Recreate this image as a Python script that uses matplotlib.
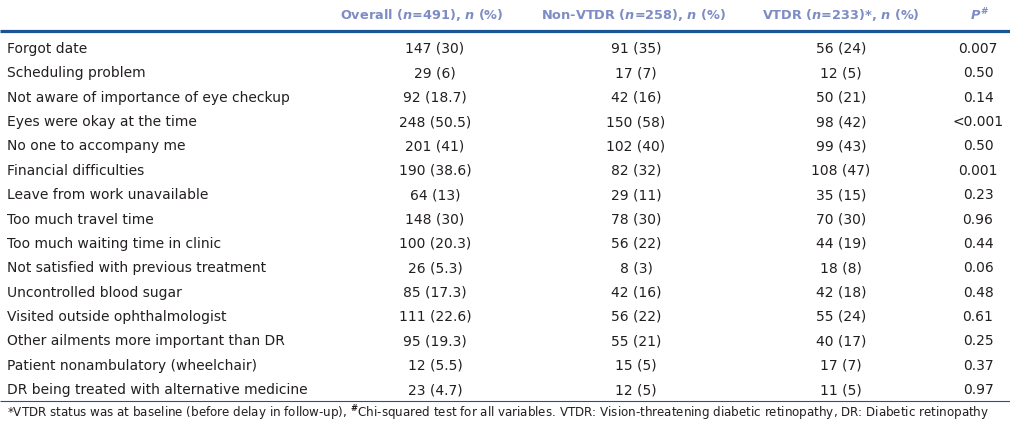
import numpy as np
import matplotlib
matplotlib.use('Agg')
import matplotlib.pyplot as plt

plt.rcParams['font.family'] = ['DejaVu Sans']
plt.rcParams['mathtext.fontset'] = 'custom'
plt.rcParams['mathtext.rm'] = 'DejaVu Sans:bold'
plt.rcParams['mathtext.it'] = 'DejaVu Sans:italic:bold'

# table data
reasons = ['Forgot date', 'Scheduling problem', 'Not aware of importance of eye checkup',
           'Eyes were okay at the time', 'No one to accompany me', 'Financial difficulties',
           'Leave from work unavailable', 'Too much travel time', 'Too much waiting time in clinic',
           'Not satisfied with previous treatment', 'Uncontrolled blood sugar',
           'Visited outside ophthalmologist', 'Other ailments more important than DR',
           'Patient nonambulatory (wheelchair)', 'DR being treated with alternative medicine']
overall_n = [147, 29, 92, 248, 201, 190, 64, 148, 100, 26, 85, 111, 95, 12, 23]
overall_pct = ['30', '6', '18.7', '50.5', '41', '38.6', '13', '30', '20.3', '5.3', '17.3', '22.6', '19.3', '5.5', '4.7']
nonvtdr_n = [91, 17, 42, 150, 102, 82, 29, 78, 56, 8, 42, 56, 55, 15, 12]
nonvtdr_pct = ['35', '7', '16', '58', '40', '32', '11', '30', '22', '3', '16', '22', '21', '5', '5']
vtdr_n = [56, 12, 50, 98, 99, 108, 35, 70, 44, 18, 42, 55, 40, 17, 11]
vtdr_pct = ['24', '5', '21', '42', '43', '47', '15', '30', '19', '8', '18', '24', '17', '7', '5']
p_values = ['0.007', '0.50', '0.14', '<0.001', '0.50', '0.001', '0.23', '0.96', '0.44',
            '0.06', '0.48', '0.61', '0.25', '0.37', '0.97']
headers = ['Overall ($n$=491), $n$ (%)', 'Non-VTDR ($n$=258), $n$ (%)',
           'VTDR ($n$=233)*, $n$ (%)', '$P^{\\#}$']
footnote = ('*VTDR status was at baseline (before delay in follow-up), $^{\\#}$Chi-squared test for all '
            'variables. VTDR: Vision-threatening diabetic retinopathy, DR: Diabetic retinopathy')

head_color = '#7d8cc4'
line_color = '#1c5596'
text_color = '#231f20'

fig = plt.figure(figsize=(10.10, 4.23), dpi=100)
ax = fig.add_axes([0, 0, 1, 1])
ax.set_xlim(0, 1010)
ax.set_ylim(423, 0)
ax.axis('off')

head_x = [422, 634, 841, 980]
col_x = [435, 636, 841, 978]
fs = 10

for hx, h in zip(head_x, headers):
    ax.text(hx, 15, h, ha='center', va='center', fontsize=9.3, fontweight='bold', color=head_color)

ax.plot([0, 1010], [31.5, 31.5], color=line_color, lw=2.3, solid_capstyle='butt')

row_y = 49 + np.arange(len(reasons)) * 24.36
for i, y in enumerate(row_y):
    ax.text(7, y, reasons[i], ha='left', va='center', fontsize=fs, color=text_color)
    ax.text(col_x[0], y, f'{overall_n[i]} ({overall_pct[i]})', ha='center', va='center', fontsize=fs, color=text_color)
    ax.text(col_x[1], y, f'{nonvtdr_n[i]} ({nonvtdr_pct[i]})', ha='center', va='center', fontsize=fs, color=text_color)
    ax.text(col_x[2], y, f'{vtdr_n[i]} ({vtdr_pct[i]})', ha='center', va='center', fontsize=fs, color=text_color)
    ax.text(col_x[3], y, p_values[i], ha='center', va='center', fontsize=fs, color=text_color)

ax.plot([0, 1010], [401, 401], color=line_color, lw=0.8, solid_capstyle='butt')
ax.text(7, 413, footnote, ha='left', va='center', fontsize=8.6, color=text_color)

fig.savefig('out.png', dpi=100)
